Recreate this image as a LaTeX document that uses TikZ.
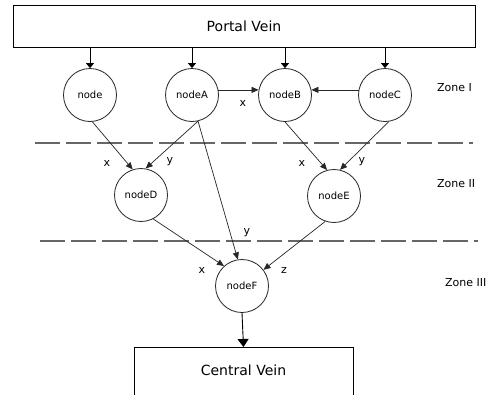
\documentclass[tikz,border=0pt]{standalone}
\usepackage{fontspec}
\setmainfont{DejaVu Sans}
\usetikzlibrary{arrows.meta}
\begin{document}
\begin{tikzpicture}[x=1pt,y=-1pt,
  circ/.style={draw=black!85,line width=0.8pt,circle,minimum size=53pt,inner sep=0pt,font=\fontsize{10pt}{12pt}\selectfont},
  veinbox/.style={draw=black,line width=0.9pt,rectangle,inner sep=0pt},
  feed/.style={draw=black,line width=0.9pt,-{Triangle[width=8pt,length=5pt]}},
  conn/.style={draw=black!85,line width=0.7pt,-{Triangle[width=6pt,length=7pt]}},
  zoneline/.style={draw=black!60,line width=1.6pt,dash pattern=on 25pt off 6pt},
  lbl/.style={font=\fontsize{11pt}{13pt}\selectfont,inner sep=0pt},
  zonelbl/.style={font=\fontsize{11pt}{13pt}\selectfont,inner sep=0pt,anchor=west}]
\clip (0,0) rectangle (487,394);
\useasboundingbox (0,0) rectangle (487,394);
\fill[white] (0,0) rectangle (487,394);

% boxes
\node[veinbox,minimum width=462pt,minimum height=42pt,font=\fontsize{14pt}{16pt}\selectfont] (portal) at (244,26) {Portal Vein};
\node[veinbox,minimum width=219pt,minimum height=80pt,anchor=north] (central) at (243.5,347) {};
\node[font=\fontsize{14pt}{16pt}\selectfont,inner sep=0pt] (centraltext) at (243.5,370) {Central Vein};

% circles
\node[circ] (n0) at (90,95) {node};
\node[circ] (nA) at (192,95) {nodeA};
\node[circ] (nB) at (285,95) {nodeB};
\node[circ] (nC) at (385,95) {nodeC};
\node[circ] (nD) at (141,195) {nodeD};
\node[circ] (nE) at (334,196) {nodeE};
\node[circ] (nF) at (242,286) {nodeF};

% zone lines
\coordinate (l1a) at (35,143);
\coordinate (l1b) at (473,143);
\coordinate (l2a) at (40,241);
\coordinate (l2b) at (478,241);
\draw[zoneline] (l1a) -- (l1b);
\draw[zoneline] (l2a) -- (l2b);

% zone labels
\node[zonelbl] (z1) at (437,88) {Zone I};
\node[zonelbl] (z2) at (437,184) {Zone II};
\node[zonelbl] (z3) at (445,283) {Zone III};

% feeds from portal vein
\foreach \n in {n0,nA,nB,nC}{
  \draw[feed] (\n.north |- portal.south) -- (\n.north);
}
\draw[draw=black,line width=0.9pt,-{Triangle[width=11pt,length=8pt]}] (nF.south) -- (central.north);

% connectors
\draw[conn] (nA.11) -- (nB.169);
\draw[conn] (nC.169) -- (nB.11);
\draw[conn] (n0.275) -- (nD.108);
\draw[conn] (nA.283) -- (nD.80);
\draw[conn] (nA.283) -- (nF.99);
\draw[conn] (nB.270) -- (nE.105);
\draw[conn] (nC.278) -- (nE.77);
\draw[conn] (nD.297) -- (nF.132);
\draw[conn] (nE.251) -- (nF.37);

% edge labels
\node[lbl] (lab1) at (243,103) {x};
\node[lbl] (lab2) at (107,163) {x};
\node[lbl] (lab3) at (170,162) {y};
\node[lbl] (lab4) at (302,163) {x};
\node[lbl] (lab5) at (362,162) {y};
\node[lbl] (lab6) at (247,233) {y};
\node[lbl] (lab7) at (202,270) {x};
\node[lbl] (lab8) at (284,270) {z};
\end{tikzpicture}
\end{document}
